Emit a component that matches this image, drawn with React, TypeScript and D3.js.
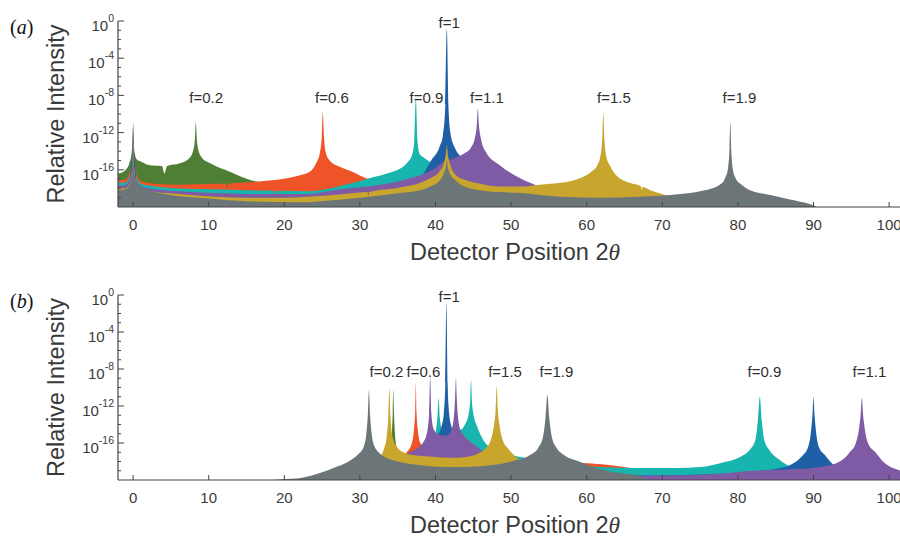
import React from 'react';
import * as d3 from 'd3';

type P = [number, number];

// series order (drawing order) and colours
const seriesNames = ['f=0.2', 'f=0.6', 'f=0.9', 'f=1', 'f=1.1', 'f=1.5', 'f=1.9'];
const seriesColors = ['#4f7f34', '#ee5427', '#17b5ad', '#1e5fa6', '#7f5aa5', '#c8a52c', '#6c7679'];

const xTicks = [0, 10, 20, 30, 40, 50, 60, 70, 80, 90, 100];
const yMajorExp = [0, -4, -8, -12, -16];
const yMinorExp = [-1, -2, -3, -5, -6, -7, -9, -10, -11, -13, -14, -15, -17, -18, -19];

// ---------- panel (a): [detector position, log10 intensity] ----------
const greenA: P[] = [[-2,-16.4],[-1.1,-16.1],[-0.5,-15.3],[-0.2,-14.2],[-0.06,-12.5],[0,-11.2],[0.06,-12.5],[0.2,-14.2],[0.5,-14.9],[1,-15.1],[2.2,-15.5],[3.8,-15.6],[4.15,-16.4],[4.5,-15.6],[6.2,-15.3],[7.5,-14.7],[7.95,-13.9],[8.18,-12.6],[8.3,-10.9],[8.42,-12.6],[8.65,-13.9],[9.1,-14.7],[10.2,-15.3],[12.8,-16.2],[15.5,-17.1],[18.1,-17.5],[22,-17.8],[30,-18.2],[40,-18.2],[50,-18.6],[60,-19.4],[75,-19.7],[90,-20.2],[103,-20.5]];
const orangeA: P[] = [[-2,-17.0],[-1.1,-17.1],[-0.5,-16.4],[-0.2,-15.0],[-0.06,-13.0],[0,-11.5],[0.06,-13.0],[0.2,-15.0],[0.5,-16.6],[1,-17.2],[3,-17.5],[6,-17.6],[10.8,-17.5],[12.3,-17.5],[12.45,-17.9],[12.6,-17.5],[14,-17.4],[16,-17.3],[18,-17.15],[20,-16.95],[22,-16.6],[23.2,-16.3],[24.2,-15.3],[24.7,-14.2],[24.95,-12.5],[25.1,-9.8],[25.25,-12.5],[25.5,-14.2],[26,-15.0],[27.4,-15.7],[29,-16.2],[30,-16.6],[31,-16.95],[33,-17.4],[36,-17.6],[40,-17.6],[45,-18.0],[50,-18.4],[60,-19.4],[75,-19.7],[90,-20.2],[103,-20.5]];
const tealA: P[] = [[-2,-17.3],[-1.1,-17.4],[-0.5,-16.8],[-0.2,-15.6],[-0.06,-13.5],[0,-11.8],[0.06,-13.5],[0.2,-15.6],[0.5,-17.0],[1,-17.5],[3,-17.8],[6,-18.0],[10.8,-18.1],[15,-18.2],[18.8,-18.25],[18.95,-18.7],[19.1,-18.25],[23.2,-18.3],[26,-18.0],[28,-17.6],[30,-17.2],[31,-16.95],[32.7,-16.6],[34,-16.3],[35.3,-15.9],[36.3,-15.2],[36.9,-14.4],[37.2,-12.8],[37.4,-8.3],[37.6,-12.8],[37.9,-14.3],[38.3,-14.6],[39,-15.0],[40,-15.5],[41,-15.4],[42,-15.4],[43,-16.2],[45,-16.8],[48,-17.4],[52,-18.0],[56,-18.9],[60,-19.4],[75,-19.7],[90,-20.2],[103,-20.5]];
const blueA: P[] = [[-2,-17.9],[-0.5,-17.4],[0,-13.5],[0.5,-17.4],[2,-18.0],[10,-18.7],[20,-18.8],[30,-18.4],[35,-17.7],[38,-16.8],[39.5,-14.9],[40.5,-13.6],[41.0,-12.2],[41.3,-9.0],[41.5,-0.8],[41.7,-9.0],[42.0,-12.2],[42.6,-13.7],[43.5,-14.7],[45,-15.8],[48,-17.0],[52,-18.0],[56,-18.9],[60,-19.4],[75,-19.7],[90,-20.2],[103,-20.5]];
const purpleA: P[] = [[-2,-17.6],[-1.1,-17.7],[-0.5,-17.1],[-0.2,-16.0],[-0.06,-14.0],[0,-12.5],[0.06,-14.0],[0.2,-16.0],[0.5,-17.3],[1,-17.8],[3,-18.1],[6,-18.3],[10.8,-18.5],[15,-18.6],[20,-18.6],[23.2,-18.6],[27.4,-18.1],[32.7,-17.6],[36.6,-16.9],[39.3,-16.1],[40.6,-15.4],[41.2,-14.9],[41.5,-13.8],[41.8,-14.9],[42.6,-14.7],[43.9,-14.2],[44.7,-13.6],[45.2,-12.6],[45.48,-11.0],[45.6,-9.4],[45.72,-11.0],[46.0,-12.6],[46.6,-14.0],[48.5,-15.5],[51.2,-16.9],[53.8,-17.8],[56,-18.5],[60,-19.2],[70,-19.4],[80,-19.6],[90,-20.2],[103,-20.5]];
const goldA: P[] = [[-2,-17.9],[-1.1,-18.0],[-0.5,-17.5],[-0.2,-16.5],[-0.06,-14.5],[0,-13.0],[0.06,-14.5],[0.2,-16.5],[0.5,-17.6],[1,-18.1],[3,-18.4],[6,-18.6],[10.8,-18.9],[15,-19.0],[20,-19.0],[23.2,-18.9],[28,-18.6],[31.0,-18.4],[31.1,-18.8],[31.2,-18.4],[35.3,-17.9],[38,-17.4],[39.3,-16.9],[40.5,-16.2],[41.1,-15.3],[41.4,-14.2],[41.5,-13.3],[41.6,-14.2],[41.9,-15.3],[42.6,-16.5],[44,-17.1],[45.9,-17.5],[48.5,-17.8],[51.2,-17.8],[53.8,-17.6],[56.5,-17.4],[59.1,-16.9],[60.6,-16.2],[61.4,-15.5],[61.8,-14.6],[62.05,-12.8],[62.2,-9.9],[62.35,-12.8],[62.6,-14.6],[63.1,-15.6],[63.8,-16.5],[65.7,-17.4],[67.2,-17.8],[67.3,-18.2],[67.4,-17.85],[68.4,-18.2],[70.4,-18.7],[73,-19.0],[80,-19.4],[90,-20.2],[103,-20.5]];
const grayA: P[] = [[-2,-18.2],[-1.1,-18.1],[-0.5,-17.6],[-0.2,-16.6],[-0.07,-14.0],[0,-10.8],[0.07,-14.0],[0.2,-16.6],[0.5,-17.4],[0.9,-17.7],[2.2,-18.2],[4.9,-18.7],[8.9,-19.0],[15.5,-19.4],[22,-19.5],[26,-19.3],[30,-19.0],[35.3,-18.5],[38,-18.2],[39.3,-17.8],[40.5,-17.2],[41.1,-16.4],[41.4,-15.6],[41.5,-15.0],[41.6,-15.6],[41.9,-16.4],[42.6,-17.1],[44.6,-18.0],[48.5,-18.4],[51.2,-18.5],[56.5,-18.9],[61.8,-19.0],[67.1,-18.9],[72.4,-18.6],[75,-18.3],[77.6,-17.6],[78.3,-16.9],[78.7,-15.8],[78.9,-13.5],[79.0,-10.9],[79.1,-13.5],[79.3,-15.8],[79.7,-16.9],[80.5,-17.6],[81.6,-18.2],[84.3,-18.7],[86.9,-19.2],[89.6,-19.7],[91,-20.1],[103,-20.5]];

// ---------- panel (b) ----------
const greenB: P[] = [[-2,-21],[32.5,-20.2],[33.6,-18.0],[34.0,-16.5],[34.25,-14.5],[34.35,-12.5],[34.42,-10.3],[34.5,-12.5],[34.6,-14.5],[34.85,-16.5],[35.3,-17.8],[36.5,-18.8],[40,-19.6],[50,-20.3],[103,-21]];
const orangeB: P[] = [[-2,-21],[33.5,-20.2],[35.2,-18.2],[36.2,-17.0],[36.8,-16.2],[37.15,-14.5],[37.32,-12.5],[37.4,-9.6],[37.48,-12.5],[37.65,-14.5],[38.0,-16.0],[38.8,-16.6],[40,-16.9],[43,-17.2],[48,-17.7],[53,-18.1],[57,-18.2],[59.5,-18.15],[62,-18.3],[64.5,-18.55],[67,-18.85],[72,-19.3],[80,-19.8],[90,-20.3],[103,-21]];
const tealB: P[] = [[-2,-21],[35,-20.2],[37,-18.6],[38.5,-17.2],[39.5,-16.0],[40.0,-15.0],[40.25,-13.3],[40.42,-11.2],[40.58,-13.3],[40.8,-14.4],[41.5,-14.8],[42.5,-14.8],[43.3,-14.6],[43.9,-14.0],[44.4,-12.8],[44.6,-11.3],[44.7,-9.2],[44.8,-11.3],[45.0,-12.8],[45.5,-14.2],[46.2,-15.5],[46.8,-16.2],[48.5,-17.0],[51.2,-17.5],[56,-18.0],[61.7,-18.6],[67,-18.7],[72,-18.7],[75,-18.6],[78,-18.1],[80.3,-17.5],[81.6,-16.7],[82.3,-15.7],[82.65,-13.5],[82.9,-11.0],[83.15,-13.5],[83.5,-15.7],[84.2,-16.8],[85.5,-17.8],[87,-18.6],[88.5,-19.2],[90.5,-19.9],[92,-20.3],[103,-21]];
const blueB: P[] = [[-2,-21],[36,-20.2],[38,-18.3],[39.5,-16.6],[40.3,-15.2],[40.8,-14.2],[41.1,-12.8],[41.3,-9.5],[41.45,-0.9],[41.6,-9.5],[41.8,-12.8],[42.1,-14.2],[42.6,-15.3],[43.5,-16.5],[45,-17.8],[50,-19.0],[60,-19.5],[70,-19.5],[78,-19.3],[83,-19.0],[85,-18.8],[86.2,-18.6],[87.5,-18.1],[88.5,-17.4],[89.3,-16.4],[89.7,-14.5],[89.9,-12.5],[90.0,-11.0],[90.1,-12.5],[90.3,-14.5],[90.7,-16.4],[91.5,-17.3],[92.2,-18.0],[93.5,-18.9],[95,-19.4],[98,-19.8],[103,-20.5]];
const purpleB: P[] = [[-2,-21],[33.5,-20.2],[35,-18.3],[36,-17.3],[37.5,-16.6],[38.4,-15.9],[38.9,-14.8],[39.15,-12.8],[39.3,-8.9],[39.45,-12.8],[39.75,-14.5],[40.5,-15.1],[41.5,-15.2],[42.1,-14.6],[42.45,-13.0],[42.6,-11.0],[42.7,-9.0],[42.8,-11.0],[42.95,-13.0],[43.3,-14.6],[44,-15.4],[45,-16.1],[46.5,-17.0],[48,-17.7],[52,-18.6],[58,-19.2],[65,-19.5],[72,-19.5],[78,-19.3],[82,-19.0],[86,-18.9],[90.9,-18.6],[93.5,-18.0],[94.8,-17.0],[95.6,-16.0],[96.05,-14.3],[96.25,-12.8],[96.4,-11.1],[96.55,-12.8],[96.75,-14.3],[97.2,-16.0],[98.3,-17.1],[99.2,-18.0],[101.5,-19.0],[103,-19.4]];
const goldB: P[] = [[-2,-21],[30,-20.2],[31.8,-18.6],[32.6,-17.6],[33.2,-16.6],[33.55,-15.3],[33.75,-13.3],[33.9,-10.1],[34.05,-13.3],[34.3,-15.3],[34.8,-16.3],[35.5,-16.9],[37,-17.3],[40,-17.5],[42,-17.6],[44,-17.5],[45.5,-17.2],[46.6,-16.6],[47.3,-15.7],[47.75,-14.0],[47.95,-12.5],[48.1,-9.9],[48.25,-12.5],[48.45,-14.0],[48.9,-15.7],[49.6,-16.6],[50.5,-17.4],[52,-18.3],[54,-18.9],[58,-19.5],[62,-20.1],[103,-21]];
const grayB: P[] = [[-2,-21],[17,-20.1],[20,-19.9],[22,-19.8],[24.5,-19.3],[26.5,-18.7],[28.5,-18.0],[29.8,-17.2],[30.5,-16.4],[30.85,-15.0],[31.05,-13.0],[31.2,-10.3],[31.35,-13.0],[31.55,-15.0],[31.9,-16.3],[32.6,-17.1],[33.5,-17.6],[35,-18.0],[38,-18.4],[42,-18.6],[46,-18.5],[50,-18.0],[52.5,-17.3],[53.6,-16.5],[54.2,-15.4],[54.55,-13.3],[54.8,-10.8],[55.05,-13.3],[55.4,-15.4],[56.0,-16.5],[57,-17.3],[59,-18.0],[61.7,-18.8],[64,-19.2],[67,-19.6],[68.5,-20.1],[103,-21]];

const seriesA = [greenA, orangeA, tealA, blueA, purpleA, goldA, grayA];
const seriesB = [greenB, orangeB, tealB, blueB, purpleB, goldB, grayB];

// peak annotations: [text, x centre (detector position), log10 intensity of baseline]
const labelsA: [string, number, number][] = [['f=0.2', 9.66, -8.8], ['f=0.6', 26.3, -8.8], ['f=0.9', 38.8, -8.8], ['f=1', 41.8, -0.7], ['f=1.1', 46.8, -8.8], ['f=1.5', 63.6, -8.8], ['f=1.9', 80.2, -8.8]];
const labelsB: [string, number, number][] = [['f=0.2', 33.5, -8.85], ['f=0.6', 38.4, -8.85], ['f=1', 41.8, -0.8], ['f=1.5', 49.2, -8.85], ['f=1.9', 56.0, -8.85], ['f=0.9', 83.5, -8.85], ['f=1.1', 97.4, -8.85]];

const SANS = 'Liberation Sans, Arial, Helvetica, sans-serif';
const SERIF = 'Liberation Serif, Times New Roman, serif';
const AXIS = '#444';
const TXT = '#3a3a3a';

function Panel(props: { id: string; top: number; bottom: number; series: P[][]; labels: [string, number, number][]; tag: string; }) {
  const { id, top, bottom, series, labels, tag } = props;
  const x = d3.scaleLinear().domain([-2, 102.5]).range([118, 908]);
  const y = d3.scaleLog().domain([1e-20, 1]).range([bottom, top]);
  const area = d3.area<P>()
    .x(d => x(d[0]))
    .y0(y(1e-20))
    .y1(d => y(Math.pow(10, d[1])))
    .curve(d3.curveMonotoneX);
  const left = x(-2);
  return (
    <g>
      <defs>
        <clipPath id={id}>
          <rect x={left} y={top - 6} width={900 - left} height={bottom - top + 6} />
        </clipPath>
      </defs>
      <g clipPath={`url(#${id})`}>
        {series.map((s, i) => (
          <path key={i} d={area(s) || ''} fill={seriesColors[i]} stroke="none" />
        ))}
      </g>
      {/* axes */}
      <line x1={left} x2={900} y1={bottom} y2={bottom} stroke={AXIS} strokeWidth={1.2} />
      <line x1={left} x2={left} y1={top} y2={bottom} stroke={AXIS} strokeWidth={1.2} />
      {xTicks.map(t => (
        <g key={t}>
          <line x1={x(t)} x2={x(t)} y1={bottom} y2={bottom - 5} stroke={AXIS} strokeWidth={1} />
          <text x={x(t)} y={bottom + 23} textAnchor="middle" fontFamily={SANS} fontSize={15} fill={TXT}>{t}</text>
        </g>
      ))}
      {yMinorExp.map(e => (
        <line key={e} x1={left} x2={left + 3} y1={y(Math.pow(10, e))} y2={y(Math.pow(10, e))} stroke={AXIS} strokeWidth={1} />
      ))}
      {yMajorExp.map(e => (
        <g key={e}>
          <line x1={left} x2={left + 6} y1={y(Math.pow(10, e))} y2={y(Math.pow(10, e))} stroke={AXIS} strokeWidth={1} />
          <text x={left - 4} y={y(Math.pow(10, e)) + 10} textAnchor="end" fontFamily={SANS} fontSize={15} fill={TXT}>
            <tspan>10</tspan>
            <tspan dy={-9} fontSize={10.5}>{e === 0 ? '0' : '-' + Math.abs(e)}</tspan>
          </text>
        </g>
      ))}
      {/* peak labels */}
      {labels.map(([t, lx, ly]) => (
        <text key={t} x={x(lx)} y={y(Math.pow(10, ly))} textAnchor="middle" fontFamily={SANS} fontSize={15} fill="#2f2f2f">{t}</text>
      ))}
      {/* axis titles */}
      <text transform={`translate(64,${(top + bottom) / 2}) rotate(-90)`} textAnchor="middle" fontFamily={SANS} fontSize={23.5} fill={TXT}>Relative Intensity</text>
      <text x={515} y={bottom + 53} textAnchor="middle" fontFamily={SANS} fontSize={23.5} fill={TXT}>
        <tspan>Detector Position 2</tspan>
        <tspan fontFamily={SERIF} fontStyle="italic">θ</tspan>
      </text>
      <text x={10} y={top + 13} fontFamily={SERIF} fontSize={20} fill="#111">
        <tspan>(</tspan>
        <tspan fontStyle="italic">{tag}</tspan>
        <tspan>)</tspan>
      </text>
    </g>
  );
}

export default function App() {
  return (
    <svg width={900} height={537} viewBox="0 0 900 537" style={{ position: 'absolute', left: 0, top: 0, background: '#fff' }}>
      <rect x={0} y={0} width={900} height={537} fill="#fff" />
      <Panel id="clipA" top={21} bottom={207} series={seriesA} labels={labelsA} tag="a" />
      <Panel id="clipB" top={295} bottom={480} series={seriesB} labels={labelsB} tag="b" />
    </svg>
  );
}
